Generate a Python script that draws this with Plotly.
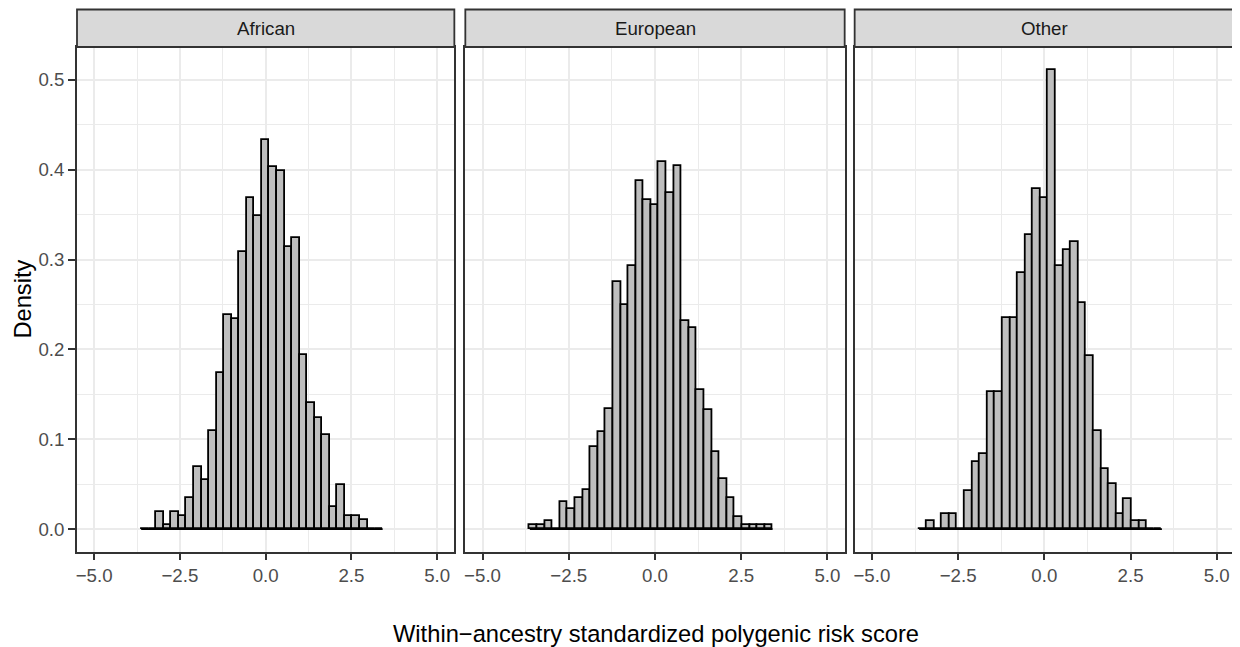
import plotly.graph_objects as go

# ---- data ----
panels = ["African", "European", "Other"]
score_bins = [-3.52, -3.30, -3.08, -2.86, -2.64, -2.42, -2.20, -1.98, -1.76, -1.54,
              -1.32, -1.10, -0.88, -0.66, -0.44, -0.22, 0.00, 0.22, 0.44, 0.66,
              0.88, 1.10, 1.32, 1.54, 1.76, 1.98, 2.20, 2.42, 2.64, 2.86,
              3.08, 3.30]
bin_width = 0.22
african = [0, 0, 0.019, 0.005, 0.019, 0.015, 0.035, 0.069, 0.055, 0.109,
           0.174, 0.238, 0.234, 0.308, 0.368, 0.348, 0.433, 0.403, 0.398, 0.314,
           0.324, 0.194, 0.140, 0.124, 0.105, 0.025, 0.049, 0.015, 0.015, 0.010,
           0, 0]
european = [0.004, 0.004, 0.009, 0, 0.030, 0.022, 0.035, 0.043, 0.091, 0.108,
            0.134, 0.275, 0.249, 0.293, 0.387, 0.366, 0.361, 0.409, 0.374, 0.404,
            0.232, 0.224, 0.155, 0.133, 0.086, 0.056, 0.035, 0.013, 0.004, 0.004,
            0.004, 0.004]
other = [0, 0.009, 0, 0.017, 0.017, 0, 0.042, 0.075, 0.084, 0.152,
         0.152, 0.235, 0.235, 0.285, 0.327, 0.378, 0.369, 0.511, 0.293, 0.311,
         0.319, 0.252, 0.193, 0.109, 0.067, 0.050, 0.017, 0.033, 0.009, 0.009,
         0, 0]
x_ticks = [-5.0, -2.5, 0.0, 2.5, 5.0]
x_ticklabels = ["\u22125.0", "\u22122.5", "0.0", "2.5", "5.0"]
x_minor = [-3.75, -1.25, 1.25, 3.75]
y_ticks = [0.0, 0.1, 0.2, 0.3, 0.4, 0.5]
y_ticklabels = ["0.0", "0.1", "0.2", "0.3", "0.4", "0.5"]
y_minor = [0.05, 0.15, 0.25, 0.35, 0.45]
x_title = "Within\u2212ancestry standardized polygenic risk score"
y_title = "Density"

series = [african, european, other]

# ---- geometry (page body has an 8px margin, so the figure is offset) ----
OFF = 8
W, H = 1240 - OFF, 647 - OFF
panel_px = [(77 - OFF, 455 - OFF), (466 - OFF, 846 - OFF), (856 - OFF, 1236 - OFF)]
L = panel_px[0][0]
R = W - panel_px[2][1]
T = 47 - OFF
B = H - (552 - OFF)
plot_w = W - L - R
plot_h = H - T - B
domains = [[(a - L) / plot_w, (b - L) / plot_w] for a, b in panel_px]

ymax = max(max(s) for s in series)
ypad = ymax * 0.05
yrange = [-ypad, ymax + ypad]
xrange = [-5.5, 5.5]

FONT = "Liberation Sans, Arial, Helvetica, sans-serif"
BORDER = "#333333"
GRID = "#EBEBEB"
TICK_SIZE = 18.7
TITLE_SIZE = 23.7

fig = go.Figure()
for i, (name, vals) in enumerate(zip(panels, series)):
    xa = "x" if i == 0 else f"x{i+1}"
    ya = "y" if i == 0 else f"y{i+1}"
    # baseline (zero-height bins drawn as outline)
    fig.add_trace(go.Scatter(
        x=[score_bins[0] - bin_width / 2, score_bins[-1] + bin_width / 2],
        y=[0, 0], mode="lines", line=dict(color="black", width=1.8),
        xaxis=xa, yaxis=ya, showlegend=False, hoverinfo="skip"))
    fig.add_trace(go.Bar(
        x=score_bins, y=vals, width=bin_width,
        marker=dict(color="#BEBEBE", line=dict(color="black", width=1.8)),
        xaxis=xa, yaxis=ya, showlegend=False, name=name))

layout = dict(
    width=W, height=H,
    margin=dict(l=L, r=R, t=T, b=B, pad=0),
    paper_bgcolor="white", plot_bgcolor="white",
    font=dict(family=FONT, color="#4D4D4D", size=TICK_SIZE),
    bargap=0,
    shapes=[], annotations=[],
)

strip_top = (T + plot_h - (9.5 - OFF)) / plot_h

for i in range(3):
    xk = "xaxis" if i == 0 else f"xaxis{i+1}"
    yk = "yaxis" if i == 0 else f"yaxis{i+1}"
    xa_id = "x" if i == 0 else f"x{i+1}"
    ya_id = "y" if i == 0 else f"y{i+1}"
    layout[xk] = dict(
        domain=domains[i], range=xrange, anchor=ya_id,
        tickmode="array", tickvals=x_ticks, ticktext=x_ticklabels,
        ticks="outside", ticklen=6, tickwidth=1.8, tickcolor=BORDER,
        tickfont=dict(size=TICK_SIZE, color="#4D4D4D", family=FONT),
        showgrid=True, gridcolor=GRID, gridwidth=1.6,
        minor=dict(tickmode="array", tickvals=x_minor, showgrid=True,
                   gridcolor=GRID, gridwidth=0.8),
        showline=True, linecolor=BORDER, linewidth=1.8, mirror=True,
        zeroline=False, fixedrange=True,
    )
    ydict = dict(
        domain=[0, 1], range=yrange, anchor=xa_id,
        tickmode="array", tickvals=y_ticks, ticktext=y_ticklabels,
        showgrid=True, gridcolor=GRID, gridwidth=1.6,
        minor=dict(tickmode="array", tickvals=y_minor, showgrid=True,
                   gridcolor=GRID, gridwidth=0.8),
        showline=True, linecolor=BORDER, linewidth=1.8, mirror=True,
        zeroline=False, fixedrange=True,
    )
    if i == 0:
        ydict.update(ticks="outside", ticklen=7, tickwidth=1.8, tickcolor=BORDER,
                     tickfont=dict(size=TICK_SIZE, color="#4D4D4D", family=FONT))
    else:
        ydict.update(ticks="", showticklabels=False, matches="y")
    layout[yk] = ydict

    # facet strip
    layout["shapes"].append(dict(
        type="rect", xref=f"{xa_id} domain", yref="paper",
        x0=0, x1=1, y0=1, y1=strip_top,
        fillcolor="#D9D9D9", line=dict(color=BORDER, width=1.8), layer="above"))
    layout["annotations"].append(dict(
        text=panels[i], xref=f"{xa_id} domain", yref="paper",
        x=0.5, y=(1 + strip_top) / 2, showarrow=False,
        xanchor="center", yanchor="middle",
        font=dict(size=TICK_SIZE, color="#1A1A1A", family=FONT)))

# axis titles
layout["annotations"].append(dict(
    text=x_title, xref="paper", yref="paper", x=0.5,
    y=(T + plot_h - (634 - OFF)) / plot_h,
    showarrow=False, xanchor="center", yanchor="middle",
    font=dict(size=TITLE_SIZE, color="black", family=FONT)))
layout["annotations"].append(dict(
    text=y_title, xref="paper", yref="paper", x=((22 - OFF) - L) / plot_w, y=0.5,
    textangle=-90, showarrow=False, xanchor="center", yanchor="middle",
    font=dict(size=TITLE_SIZE, color="black", family=FONT)))

fig.update_layout(**layout)
fig.write_html("out.html")
